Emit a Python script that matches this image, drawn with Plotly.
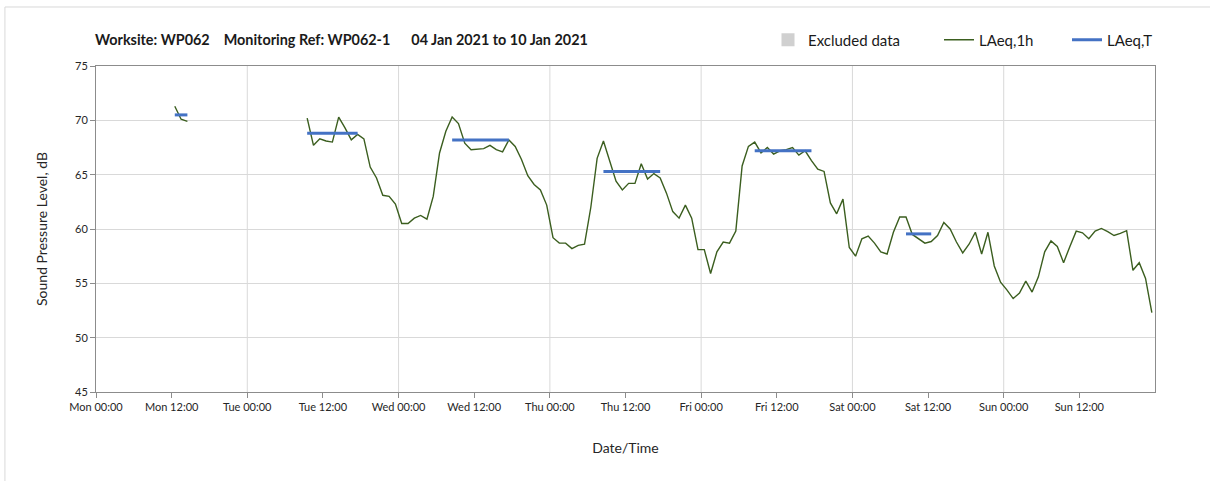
import pandas as pd
import plotly.graph_objects as go

start = pd.Timestamp("2021-01-04 00:00")

# hourly LAeq,1h values, one per hour from Mon 00:00 (None = no data)
laeq_1h = [None] * 12 + [71.3, 70.1, 69.9] + [None] * 18 + [
    70.2, 67.7, 68.3, 68.1, 68.0, 70.3, 69.3, 68.2, 68.7, 68.3,
    65.7, 64.7, 63.1, 63.0, 62.3, 60.5, 60.5, 61.0, 61.25, 60.9,
    63.0, 67.0, 69.0, 70.3, 69.7, 67.9, 67.3, 67.35, 67.4, 67.7,
    67.3, 67.1, 68.2, 67.6, 66.4, 64.9, 64.1, 63.6, 62.2, 59.2,
    58.7, 58.7, 58.2, 58.5, 58.6, 62.0, 66.5, 68.1, 66.2, 64.4,
    63.6, 64.2, 64.2, 66.0, 64.6, 65.1, 64.7, 63.3, 61.6, 61.0,
    62.2, 61.0, 58.1, 58.1, 55.9, 57.9, 58.8, 58.7, 59.8, 65.8,
    67.6, 68.0, 67.0, 67.5, 66.9, 67.2, 67.3, 67.5, 66.8, 67.2,
    66.3, 65.5, 65.3, 62.4, 61.4, 62.75, 58.3, 57.5, 59.1, 59.35,
    58.7, 57.9, 57.7, 59.7, 61.1, 61.1, 59.5, 59.1, 58.7, 58.85,
    59.4, 60.6, 60.0, 58.8, 57.8, 58.6, 59.7, 57.7, 59.7, 56.6,
    55.1, 54.4, 53.6, 54.1, 55.2, 54.2, 55.6, 57.9, 58.9, 58.4,
    56.9, 58.4, 59.8, 59.65, 59.1, 59.8, 60.05, 59.75, 59.4, 59.6,
    59.85, 56.2, 56.9, 55.45, 52.3]

# LAeq,T periods (first hour, last hour, level)
laeq_t_first = [12, 33, 56, 80, 104, 128]
laeq_t_last = [14, 41, 65, 89, 113, 132]
laeq_t_value = [70.5, 68.8, 68.2, 65.3, 67.2, 59.55]

tick_labels = ["Mon 00:00", "Mon 12:00", "Tue 00:00", "Tue 12:00", "Wed 00:00",
               "Wed 12:00", "Thu 00:00", "Thu 12:00", "Fri 00:00", "Fri 12:00",
               "Sat 00:00", "Sat 12:00", "Sun 00:00", "Sun 12:00"]

# points plotted at middle of each hour
times = [start + pd.Timedelta(hours=h, minutes=30) for h in range(len(laeq_1h))]

tx, ty = [], []
for a, b, v in zip(laeq_t_first, laeq_t_last, laeq_t_value):
    for h in range(a, b + 1):
        tx.append(start + pd.Timedelta(hours=h, minutes=30))
        ty.append(v)
    tx.append(None)
    ty.append(None)

tickvals = [start + pd.Timedelta(hours=12 * i) for i in range(len(tick_labels))]
end = start + pd.Timedelta(days=7)

fig = go.Figure()
# no excluded periods this week - legend entry only
fig.add_trace(go.Scatter(x=[None], y=[None], mode="markers", name="Excluded data",
                         marker=dict(symbol="square", size=13, color="#d0d0d0"),
                         legend="legend"))
fig.add_trace(go.Scatter(x=times, y=laeq_1h, mode="lines", name="LAeq,1h",
                         line=dict(color="#3b5e1f", width=1.4), legend="legend2"))
fig.add_trace(go.Scatter(x=tx, y=ty, mode="lines", name="LAeq,T",
                         line=dict(color="#4472c4", width=3), legend="legend3"))

# vertical gridlines at midnight only
for d in pd.date_range(start, end, freq="D")[1:-1]:
    fig.add_shape(type="line", xref="x", yref="paper", x0=d, x1=d, y0=0, y1=1,
                  line=dict(color="#d9d9d9", width=1), layer="below")

# chart area border
fig.add_shape(type="rect", xref="paper", yref="paper", x0=-0.086, x1=1.3,
              y0=-0.5, y1=1.181, line=dict(color="#d9d9d9", width=1))

title = ("Worksite: WP062\u00a0\u00a0\u00a0\u00a0Monitoring Ref: WP062-1"
         "\u00a0\u00a0\u00a0\u00a0\u00a0\u00a004 Jan 2021 to 10 Jan 2021")

leg = dict(orientation="h", xanchor="left", y=1 + 26 / 326, yanchor="middle",
           font=dict(size=15, color="#1a1a1a"), bgcolor="rgba(0,0,0,0)", itemwidth=30)

fig.update_layout(
    width=1210, height=481,
    margin=dict(l=96, r=55, t=66, b=89),
    paper_bgcolor="white", plot_bgcolor="white",
    font=dict(family="Lato, Open Sans, sans-serif", size=11, color="#262626"),
    title=dict(text="<b>" + title + "</b>", x=95 / 1210, xanchor="left",
               y=1 - 40 / 481, yanchor="middle",
               font=dict(size=14.4, color="#1a1a1a")),
    showlegend=True,
    legend=dict(leg, x=(768 - 96) / 1059),
    legend2=dict(leg, x=(939 - 96) / 1059),
    legend3=dict(leg, x=(1067 - 96) / 1059),
)
fig.update_xaxes(
    type="date", range=[start, end], tickvals=tickvals, ticktext=tick_labels,
    showgrid=False, showline=True, mirror=True, linecolor="#8c8c8c", linewidth=1,
    ticks="outside", ticklen=5, tickcolor="#8c8c8c", automargin=False,
    tickfont=dict(size=11), title=dict(text="Date/Time", font=dict(size=14), standoff=30),
)
fig.update_yaxes(
    range=[45, 75], dtick=5, showgrid=True, gridcolor="#d9d9d9",
    showline=True, mirror=True, linecolor="#8c8c8c", linewidth=1,
    ticks="outside", ticklen=5, tickcolor="#8c8c8c", zeroline=False,
    tickfont=dict(size=11), automargin=False,
    title=dict(text="Sound Pressure Level, dB", font=dict(size=14), standoff=24),
)

# drop the default page margin so the figure sits at the window's corner
fig.write_html("out.html", config={"displayModeBar": False},
               post_script="document.body.style.margin='0px';")
